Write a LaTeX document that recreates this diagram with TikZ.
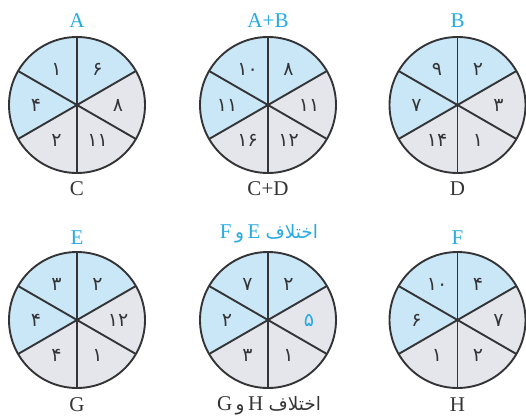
\documentclass[tikz,border=0pt]{standalone}
\usepackage{fontspec}
\setmainfont{Liberation Serif}
\newfontfamily\arabicfont[Script=Arabic]{DejaVu Sans}
\newcommand{\farsifont}{\arabicfont\fontsize{18.5}{20}\selectfont}
\TeXXeTstate=1

\definecolor{secblue}{RGB}{201,231,246}
\definecolor{secgray}{RGB}{229,230,235}
\definecolor{rimgray}{RGB}{52,52,54}
\definecolor{labelblue}{RGB}{38,170,226}

\tikzset{
  wheelline/.style={draw=rimgray, line width=1.9pt},
  num/.style={font=\arabicfont\fontsize{19}{22}\selectfont, text=rimgray},
  toplabel/.style={text=labelblue, font=\fontsize{21}{24}\selectfont},
  botlabel/.style={text=rimgray, font=\fontsize{21}{24}\selectfont},
}

% #1 name, #2 centre, #3..#8 numbers at 0,60,120,180,240,300 degrees
\newcommand{\wheel}[8]{%
  \coordinate (#1) at #2;
  \fill[secblue] (#1) -- ++(30:68) arc (30:210:68) -- cycle;
  \fill[secgray] (#1) -- ++(210:68) arc (210:390:68) -- cycle;
  \foreach \a in {30,90,...,330}
    \draw[wheelline] (#1) -- ++(\a:68);
  \draw[wheelline] (#1) circle (68);
  \path (#1) ++(0:41) node[num] (#1-0) {#3};
  \path (#1) ++(60:41) node[num] (#1-60) {#4};
  \path (#1) ++(120:41) node[num] (#1-120) {#5};
  \path (#1) ++(180:41) node[num] (#1-180) {#6};
  \path (#1) ++(240:41) node[num] (#1-240) {#7};
  \path (#1) ++(300:41) node[num] (#1-300) {#8};
}

\begin{document}
\begin{tikzpicture}[x=1pt, y=1pt]
  \useasboundingbox (0,0) rectangle (526,418);

  % top row
  \wheel{wa}{(77,313)}{۸}{۶}{۱}{۴}{۲}{۱۱}
  \wheel{wab}{(268,313)}{۱۱}{۸}{۱۰}{۱۱}{۱۶}{۱۲}
  \wheel{wb}{(457.5,313)}{۳}{۲}{۹}{۷}{۱۴}{۱}
  \node[toplabel] (la) at (77,397) {A};
  \node[toplabel] (lab) at (268,397) {A+B};
  \node[toplabel] (lb) at (457.5,397) {B};
  \node[botlabel] (lc) at (77,229) {C};
  \node[botlabel] (lcd) at (268,229) {C+D};
  \node[botlabel] (ld) at (457.5,229) {D};

  % bottom row
  \wheel{we}{(77,98)}{۱۲}{۲}{۳}{۴}{۴}{۱}
  \wheel{wd}{(268,98)}{\textcolor{labelblue}{۵}}{۲}{۷}{۲}{۳}{۱}
  \wheel{wf}{(457.5,98)}{۷}{۴}{۱۰}{۶}{۱}{۲}
  \node[toplabel] (le) at (77,180.5) {E};
  \node[toplabel] (lef) at (269,184) {\beginR{\farsifont اختلاف} E\,{\farsifont و}\,F\endR};
  \node[toplabel] (lf) at (457.5,180.5) {F};
  \node[botlabel] (lg) at (77,13) {G};
  \node[botlabel] (lgh) at (269,12) {\beginR{\farsifont اختلاف} H\,{\farsifont و}\,G\endR};
  \node[botlabel] (lh) at (457.5,13) {H};
\end{tikzpicture}
\end{document}
